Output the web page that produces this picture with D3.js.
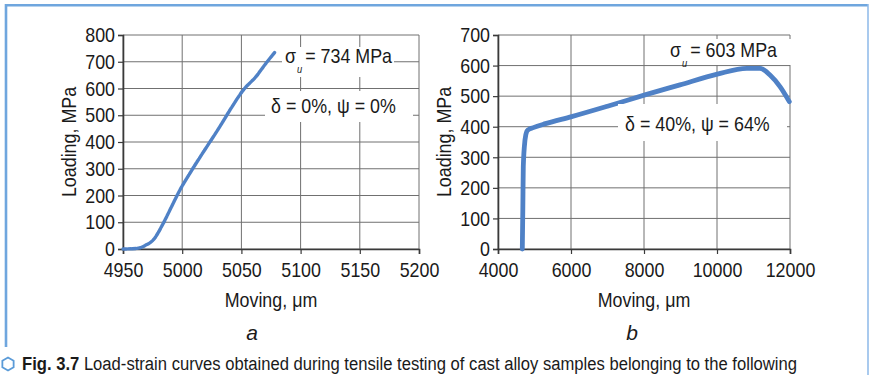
<!DOCTYPE html>
<html><head><meta charset="utf-8">
<script src="https://cdn.jsdelivr.net/npm/d3@7"></script>
<style>
html,body{margin:0;padding:0;background:#fff;}
svg{display:block;}
text{font-family:"Liberation Sans",Arial,sans-serif;fill:#1a1a1a;}
</style></head>
<body>
<svg id="c" width="869" height="375"></svg>
<script>
// ---- Data ----
// Panel a
const aXTicks = [4950, 5000, 5050, 5100, 5150, 5200];
const aYTicks = [0, 100, 200, 300, 400, 500, 600, 700, 800];
const aMoving = [4950, 4958, 4964, 4969, 4975.6, 4984, 4991, 4998, 5006.6, 5017.8, 5032, 5040.4, 5051.6, 5063, 5070, 5078];
const aLoad   = [0, 1, 4, 14, 34, 96, 158, 220, 284, 362, 459, 520, 594, 648, 690, 734];
// Panel b
const bXTicks = [4000, 6000, 8000, 10000, 12000];
const bYTicks = [0, 100, 200, 300, 400, 500, 600, 700];
const bMoving = [4666, 4680, 4693, 4740, 4786, 4830, 4967, 5300, 6019, 7000, 8027, 8986, 10008, 10814, 11178, 11452, 11726, 11981];
const bLoad   = [0, 130, 270, 357, 384, 390, 397, 410, 433, 467, 504, 537, 572, 591, 591, 569, 531, 482];

const svg = d3.select("#c");
const FS = 21, SQ = 0.85;
const curveColor = "#4f81c6";

function condense(sel, k){
  sel.each(function(){
    const len = this.getComputedTextLength();
    d3.select(this).attr("textLength", len*(k||SQ)).attr("lengthAdjust","spacingAndGlyphs");
  });
}

// frame
svg.append("line").attr("x1",5).attr("x2",868).attr("y1",5.2).attr("y2",5.2).attr("stroke","#6fa6de").attr("stroke-width",2.6);
svg.append("line").attr("x1",6).attr("x2",6).attr("y1",4).attr("y2",347).attr("stroke","#6fa6de").attr("stroke-width",2.6);
svg.append("line").attr("x1",868).attr("x2",868).attr("y1",4).attr("y2",375).attr("stroke","#8cb9e8").attr("stroke-width",1.5);

function panel(opts){
  const {x, y, xTicks, yTicks, xs, ys, lineW, dash, yTitleX, letter} = opts;
  const g = svg.append("g");
  const [x0,x1] = x.range(), [y0,y1] = y.range();
  // grid
  g.append("g").selectAll("line").data(xTicks).join("line")
    .attr("x1",d=>x(d)).attr("x2",d=>x(d)).attr("y1",y0).attr("y2",y1)
    .attr("stroke","#707070").attr("stroke-width",1);
  g.append("g").selectAll("line").data(yTicks).join("line")
    .attr("x1",x0).attr("x2",x1).attr("y1",d=>y(d)).attr("y2",d=>y(d))
    .attr("stroke","#707070").attr("stroke-width",1);
  // axes
  const ax = g.append("g").attr("transform",`translate(0,${y0})`)
    .call(d3.axisBottom(x).tickValues(xTicks).tickSize(5).tickPadding(8).tickFormat(d3.format("d")));
  const ay = g.append("g").attr("transform",`translate(${x0},0)`)
    .call(d3.axisLeft(y).tickValues(yTicks).tickSize(5).tickPadding(3).tickFormat(d3.format("d")));
  [ax,ay].forEach(a=>{
    a.select(".domain").attr("stroke","#3a3a3a").attr("stroke-width",1.6);
    a.selectAll(".tick line").attr("stroke","#3a3a3a").attr("stroke-width",1.2);
    a.selectAll(".tick text").attr("font-size",FS).attr("fill","#1a1a1a")
      .attr("font-family","Liberation Sans, Arial").call(condense);
  });
  // curve
  const line = d3.line().x((d,i)=>x(xs[i])).y((d,i)=>y(ys[i])).curve(d3.curveMonotoneX);
  const p = g.append("path").datum(xs).attr("d",line).attr("fill","none")
    .attr("stroke",curveColor).attr("stroke-width",lineW).attr("stroke-linecap","round").attr("stroke-linejoin","round");
  if(dash) p.attr("stroke-dasharray",dash);
  // titles
  const cx = (x0+x1)/2;
  g.append("text").attr("x",cx).attr("y",307).attr("text-anchor","middle").attr("font-size",FS).text("Moving, μm").call(condense);
  g.append("text").attr("transform",`translate(${yTitleX},${(y0+y1)/2}) rotate(-90)`).attr("text-anchor","middle")
    .attr("font-size",FS).text("Loading, MPa").call(condense);
  g.append("text").attr("x",opts.letterX).attr("y",340).attr("text-anchor","middle").attr("font-size",FS)
    .attr("font-style","italic").text(letter);
  return g;
}

const xa = d3.scaleLinear().domain([4950,5200]).range([123,419]);
const ya = d3.scaleLinear().domain([0,800]).range([249,35]);
const xb = d3.scaleLinear().domain([4000,12000]).range([498,790]);
const yb = d3.scaleLinear().domain([0,700]).range([249,35]);

const ga = panel({x:xa,y:ya,xTicks:aXTicks,yTicks:aYTicks,xs:aMoving,ys:aLoad,lineW:3.4,dash:"3.5,1.2",yTitleX:76,letter:"a",letterX:252});
const gb = panel({x:xb,y:yb,xTicks:bXTicks,yTicks:bYTicks,xs:bMoving,ys:bLoad,lineW:4.8,dash:null,yTitleX:451,letter:"b",letterX:632});

function annot(g, bx, by, bw, bh, tx, ty, parts){
  g.append("rect").attr("x",bx).attr("y",by).attr("width",bw).attr("height",bh).attr("fill","#fff");
  let cx = tx;
  parts.forEach(p=>{
    const t = g.append("text").attr("x",cx).attr("y",ty + (p.sub?10:0)).attr("font-size",p.sub?11:FS)
      .attr("font-style",p.sub?"italic":null).text(p.t);
    condense(t);
    cx += +t.attr("textLength") + (p.gap||0);
  });
}
annot(ga, 282, 47, 112, 30, 285, 63, [{t:"σ",gap:1},{t:"u",sub:true,gap:3},{t:"= 734 MPa"}]);
annot(ga, 265, 91, 148, 31, 271, 113, [{t:"δ = 0%, ψ = 0%"}]);
annot(gb, 663, 39, 132, 26, 670, 57, [{t:"σ",gap:1},{t:"u",sub:true,gap:3},{t:"= 603 MPa"}]);
annot(gb, 618, 104, 169, 37, 625, 131, [{t:"δ = 40%, ψ = 64%"}]);

// caption
const hex = d3.range(6).map(i=>{const a=Math.PI/3*i+Math.PI/6; return [8+6.5*Math.cos(a), 364+6.5*Math.sin(a)];});
svg.append("path").attr("d",d3.line()(hex)+"Z").attr("fill","none").attr("stroke","#5b9bd8").attr("stroke-width",1.8);
const cap = svg.append("text").attr("x",22).attr("y",370).attr("font-size",18).attr("fill","#222")
  .attr("textLength",775).attr("lengthAdjust","spacingAndGlyphs");
cap.append("tspan").attr("font-weight","bold").text("Fig. 3.7 ");
cap.append("tspan").text("Load-strain curves obtained during tensile testing of cast alloy samples belonging to the following");
</script>
</body></html>
